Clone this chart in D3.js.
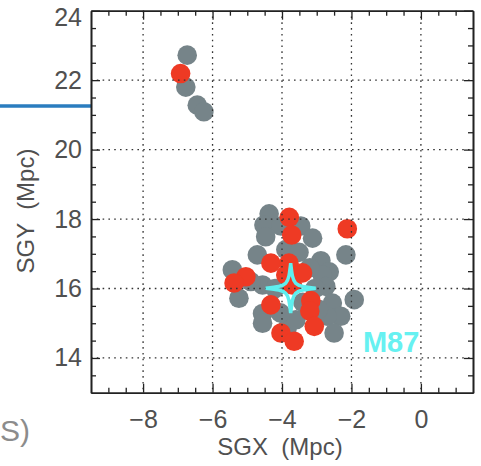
<!DOCTYPE html>
<html><head><meta charset="utf-8">
<script src="https://cdn.jsdelivr.net/npm/d3@7"></script>
<style>
html,body{margin:0;padding:0;background:#fff;}
svg{display:block;}
text{font-family:"Liberation Sans",Arial,Helvetica,sans-serif;}
</style></head>
<body>
<svg id="chart" width="481" height="466"></svg>
<script>
// ---- data (Mpc) ----
const grayX = [-6.73,-6.77,-6.44,-6.25,-4.37,-4.52,-4.03,-4.47,-3.46,-3.12,-3.89,-3.51,-4.71,-2.88,-2.64,-2.16,-5.43,-5.24,-4.56,-4.20,-2.84,-2.74,-3.20,-1.92,-2.55,-2.31,-2.70,-2.50,-4.56,-4.56,-3.85,-3.60,-3.40,-4.05,-3.05,-2.95,-4.90];
const grayY = [22.72,21.80,21.28,21.09,18.15,17.83,17.80,17.49,17.80,17.45,17.12,17.04,16.97,16.80,16.48,16.97,16.54,15.72,16.10,16.00,16.39,16.06,16.60,15.68,15.58,15.20,15.20,14.72,15.28,15.00,14.86,15.10,15.60,15.30,16.00,15.40,16.20];
const redX = [-6.92,-3.79,-3.72,-2.12,-4.32,-3.80,-3.41,-5.04,-5.38,-3.89,-4.32,-3.17,-3.20,-3.07,-4.03,-3.65,-3.70];
const redY = [22.19,18.05,17.54,17.72,16.73,16.73,16.45,16.34,16.16,16.39,15.53,15.65,15.35,14.91,14.72,14.48,16.10];
const m87 = {name:"M87", x:-3.75, y:16.01};
const xTicks = [-8,-6,-4,-2,0];
const yTicks = [14,16,18,20,22,24];
const xTitle = "SGX (Mpc)";
const yTitle = "SGY (Mpc)";

// ---- layout ----
const L=91, R=473, T=10.7, B=392.7;
const svg = d3.select("#chart");
const x = d3.scaleLinear().domain([-9.5,1.5]).range([L,R]);
const y = d3.scaleLinear().domain([13,24]).range([B,T]);
const gray="#768489", red="#ee3a24", cyan="#5eefef";

// stray elements from surrounding figure
svg.append("line").attr("x1",0).attr("x2",L).attr("y1",106).attr("y2",106)
  .attr("stroke","#2a7dbf").attr("stroke-width",3.5);
svg.append("text").attr("x",0).attr("y",441).attr("font-size",30).attr("fill","#8c8c8c").text("S)");

// points
const r=9.8;
svg.append("g").selectAll("circle").data(d3.zip(grayX,grayY)).join("circle")
  .attr("cx",d=>x(d[0])).attr("cy",d=>y(d[1])).attr("r",r).attr("fill",gray);
svg.append("g").selectAll("circle").data(d3.zip(redX,redY)).join("circle")
  .attr("cx",d=>x(d[0])).attr("cy",d=>y(d[1])).attr("r",r).attr("fill",red);

// grid (dotted, over points)
const grid = svg.append("g").attr("stroke","#333").attr("stroke-width",1.3).attr("stroke-dasharray","1.6,4.2");
grid.selectAll(".gx").data(xTicks).join("line").attr("x1",d=>x(d)).attr("x2",d=>x(d)).attr("y1",T).attr("y2",B);
grid.selectAll(".gy").data(yTicks.filter(v=>v<24)).join("line").attr("y1",d=>y(d)).attr("y2",d=>y(d)).attr("x1",L).attr("x2",R);

// minor ticks
const minorX = d3.range(-9.5,1.51,0.5).filter(v=>!xTicks.includes(v) && v>-9.5 && v<1.5);
const minorY = d3.range(13,24.01,0.5).filter(v=>!yTicks.includes(v) && v>13 && v<24);

function styleAxis(g){
  g.select(".domain").attr("stroke","#222").attr("stroke-width",1.6);
  g.selectAll(".tick line").attr("stroke","#222").attr("stroke-width",1.3);
  g.selectAll("text").attr("font-size",25).attr("fill","#505050").attr("font-family","Liberation Sans, Arial, sans-serif");
}
// bottom
svg.append("g").attr("transform",`translate(0,${B})`)
  .call(d3.axisBottom(x).tickValues(xTicks).tickSize(-9).tickPadding(18).tickSizeOuter(0)).call(styleAxis);
svg.append("g").attr("transform",`translate(0,${B})`)
  .call(d3.axisBottom(x).tickValues(minorX).tickSize(-5).tickFormat("").tickSizeOuter(0)).call(styleAxis);
// top
svg.append("g").attr("transform",`translate(0,${T})`)
  .call(d3.axisTop(x).tickValues(xTicks).tickSize(-9).tickFormat("").tickSizeOuter(0)).call(styleAxis);
svg.append("g").attr("transform",`translate(0,${T})`)
  .call(d3.axisTop(x).tickValues(minorX).tickSize(-5).tickFormat("").tickSizeOuter(0)).call(styleAxis);
// left
const gl = svg.append("g").attr("transform",`translate(${L},0)`)
  .call(d3.axisLeft(y).tickValues(yTicks).tickSize(-9).tickPadding(9).tickSizeOuter(0)).call(styleAxis);
gl.selectAll(".tick").filter(d=>d===24).select("text").attr("dy","0.6em");
svg.append("g").attr("transform",`translate(${L},0)`)
  .call(d3.axisLeft(y).tickValues(minorY).tickSize(-5).tickFormat("").tickSizeOuter(0)).call(styleAxis);
// right
svg.append("g").attr("transform",`translate(${R},0)`)
  .call(d3.axisRight(y).tickValues(yTicks).tickSize(-9).tickFormat("").tickSizeOuter(0)).call(styleAxis);
svg.append("g").attr("transform",`translate(${R},0)`)
  .call(d3.axisRight(y).tickValues(minorY).tickSize(-5).tickFormat("").tickSizeOuter(0)).call(styleAxis);

// axis titles
svg.append("text").attr("x",(L+R)/2-2).attr("y",455).attr("text-anchor","middle")
  .attr("font-size",24).attr("fill","#505050").attr("xml:space","preserve").text(xTitle.replace(" ","  "));
svg.append("text").attr("transform",`translate(34,211) rotate(-90)`).attr("text-anchor","middle")
  .attr("font-size",24).attr("fill","#505050").attr("xml:space","preserve").text(yTitle.replace(" ","  "));

// M87 star (four-pointed, concave sides)
const cx=x(m87.x), cy=y(m87.y), s=25, k=2.5;
const star = `M0,${-s} C${k},${-k} ${k},${-k} ${s},0 C${k},${k} ${k},${k} 0,${s} C${-k},${k} ${-k},${k} ${-s},0 C${-k},${-k} ${-k},${-k} 0,${-s} Z`;
svg.append("path").attr("d",star).attr("transform",`translate(${cx},${cy})`)
  .attr("fill","none").attr("stroke",cyan).attr("stroke-width",3.5).attr("stroke-linejoin","miter");
svg.append("text").attr("x",x(-1.67)).attr("y",y(14.18)).attr("font-size",29).attr("font-weight","bold")
  .attr("fill","#66f1f1").text(m87.name);
</script>
</body></html>
